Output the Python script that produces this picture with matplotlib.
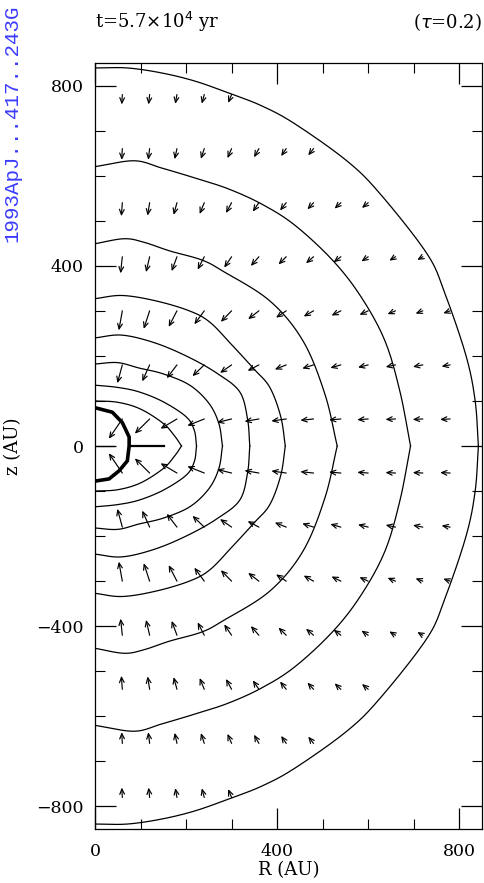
import numpy as np
import matplotlib
matplotlib.use("Agg")
import matplotlib.pyplot as plt
from matplotlib.patches import FancyArrowPatch
from matplotlib.ticker import MultipleLocator

# ---------------- data ----------------
# density contours, upper half (R, z) in AU; lower half is the mirror image
c1_R = [0, 71, 146, 219, 292, 366, 439, 553, 626, 729, 768, 815, 835, 842]
c1_z = [839, 839, 828, 810, 784, 755, 715, 633, 560, 427, 340, 200, 100, 0]
c2_R = [0, 86, 146, 219, 292, 366, 439, 523, 585, 637, 670, 693]
c2_z = [620, 633, 617, 595, 571, 537, 490, 411, 330, 233, 120, 0]
c3_R = [0, 64, 108, 164, 234, 281, 384, 457, 505, 532]
c3_z = [449, 460, 452, 433, 413, 388, 322, 233, 115, 0]
c4_R = [0, 60, 134, 207, 252, 300, 350, 384, 408, 418]
c4_z = [327, 334, 322, 300, 275, 225, 170, 130, 65, 0]
c5_R = [0, 60, 134, 208, 270, 318, 335, 340]
c5_z = [240, 246, 228, 196, 160, 120, 60, 0]
c6_R = [0, 50, 97, 150, 208, 250, 272, 280]
c6_z = [182, 185, 173, 160, 135, 95, 50, 0]
c7_R = [0, 50, 97, 150, 200, 218, 223]
c7_z = [135, 130, 120, 98, 65, 35, 0]
c8_R = [0, 50, 100, 150, 175, 190]
c8_z = [100, 97, 82, 50, 22, 0]

# thick inner boundary (full)
core_R = [0, 38, 60, 75, 75, 71, 53, 31, 0]
core_z = [85, 75, 52, 20, 0, -33, -55, -73, -78]

# midplane segments
thin_seg_R = [0, 42]
thick_seg_R = [75, 152]

# velocity arrows: tails on grid; lengths in AU, angle below horizontal (deg)
arrow_R = [60, 120, 180, 240, 300, 360, 420, 480, 540, 600, 660, 720, 780]
arrow_z = [780, 660, 540, 420, 300, 180, 60]
arrow_len = [
    [22, 22, 21, 21, 20],
    [25, 25, 24, 24, 23, 22, 20, 19],
    [30, 29, 28, 27, 26, 24, 22, 20, 19, 18],
    [37, 35, 34, 32, 29, 27, 24, 22, 20, 18, 16, 14],
    [44, 42, 40, 37, 34, 30, 27, 25, 23, 21, 19, 17, 16],
    [42, 40, 37, 36, 31, 28, 27, 26, 24, 23, 22, 22, 19],
    [53, 46, 42, 40, 33, 32, 33, 29, 26, 24, 22, 22, 22],
]
arrow_ang = [
    [87, 84, 80, 75, 68],
    [87, 83, 78, 72, 67, 61, 56, 52],
    [86, 81, 75, 68, 62, 56, 52, 48, 44, 41],
    [84, 77, 70, 63, 56, 49, 45, 41, 38, 35, 32, 30],
    [80, 72, 63, 54, 46, 38, 34, 30, 27, 25, 23, 21, 20],
    [75, 66, 53, 44, 35, 28, 22, 18, 16, 14, 12, 11, 10],
    [56, 45, 31, 22, 14, 10, 8, 6, 5, 4, 3, 3, 3],
]

x_ticks = [0, 400, 800]
y_ticks = [-800, -400, 0, 400, 800]


def smooth(xs, ys, n=12):
    """Catmull-Rom curve through the given points (drawing only)."""
    p = np.column_stack([xs, ys]).astype(float)
    p = np.vstack([2 * p[0] - p[1], p, 2 * p[-1] - p[-2]])
    out = []
    for i in range(1, len(p) - 2):
        p0, p1, p2, p3 = p[i - 1], p[i], p[i + 1], p[i + 2]
        t = np.linspace(0, 1, n, endpoint=False)[:, None]
        seg = 0.5 * ((2 * p1) + (-p0 + p2) * t + (2 * p0 - 5 * p1 + 4 * p2 - p3) * t ** 2
                     + (-p0 + 3 * p1 - 3 * p2 + p3) * t ** 3)
        out.append(seg)
    out.append(p[-2][None, :])
    s = np.vstack(out)
    return s[:, 0], s[:, 1]


# ---------------- figure ----------------
W, H = 484, 883
fig = plt.figure(figsize=(W / 100, H / 100), dpi=100)
ax = fig.add_axes([95 / W, 54 / H, 387 / W, 766 / H])
ax.set_xlim(0, 850)
ax.set_ylim(-850, 850)

serif = "DejaVu Serif"

contours = [(c1_R, c1_z), (c2_R, c2_z), (c3_R, c3_z), (c4_R, c4_z),
            (c5_R, c5_z), (c6_R, c6_z), (c7_R, c7_z), (c8_R, c8_z)]
for cr, cz in contours:
    sr, sz = smooth(cr, cz)
    ax.plot(sr, sz, color="k", lw=0.9)
    ax.plot(sr, -sz, color="k", lw=0.9)

ax.plot(core_R, core_z, color="k", lw=2.6, solid_joinstyle="round")
ax.plot(thin_seg_R, [0, 0], color="k", lw=0.9)
ax.plot(thick_seg_R, [0, 0], color="k", lw=1.6)

for zi, lens, angs in zip(arrow_z, arrow_len, arrow_ang):
    for Ri, L, a in zip(arrow_R, lens, angs):
        for sgn in (1, -1):
            z0 = sgn * zi
            dx = -L * np.cos(np.radians(a))
            dy = -sgn * L * np.sin(np.radians(a))
            arr = FancyArrowPatch((Ri, z0), (Ri + dx, z0 + dy),
                                  arrowstyle="->,head_length=0.38,head_width=0.17",
                                  mutation_scale=10, lw=0.85, color="k",
                                  shrinkA=0, shrinkB=0)
            ax.add_patch(arr)

ax.set_xticks(x_ticks)
ax.set_yticks(y_ticks)
ax.xaxis.set_minor_locator(MultipleLocator(100))
ax.yaxis.set_minor_locator(MultipleLocator(100))
ax.tick_params(which="major", direction="in", length=15, width=0.9,
               top=True, right=True, labelsize=12.5)
ax.tick_params(axis="x", which="major", pad=10)
ax.tick_params(axis="y", which="major", pad=8)
ax.tick_params(which="minor", direction="in", length=7, width=0.8,
               top=True, right=True)
for lab in ax.get_xticklabels() + ax.get_yticklabels():
    lab.set_fontfamily(serif)
for s in ax.spines.values():
    s.set_linewidth(0.9)

ax.set_xlabel("R (AU)", fontsize=13, fontfamily=serif, labelpad=1)
ax.set_ylabel("z (AU)", fontsize=13, fontfamily=serif, labelpad=10)

fig.text(95 / W, 1 - 22 / H, r"t=5.7$\times$10$^4$ yr", fontsize=13,
         fontfamily=serif, ha="left", va="center")
fig.text(482 / W, 1 - 22 / H, r"($\tau$=0.2)", fontsize=13,
         fontfamily=serif, ha="right", va="center")
fig.text(12 / W, 1 - 4 / H, "1993ApJ...417..243G", rotation=90,
         fontsize=15, fontfamily="Liberation Mono", color="#3b3bff",
         ha="center", va="top")

fig.savefig("out.png", dpi=100)
